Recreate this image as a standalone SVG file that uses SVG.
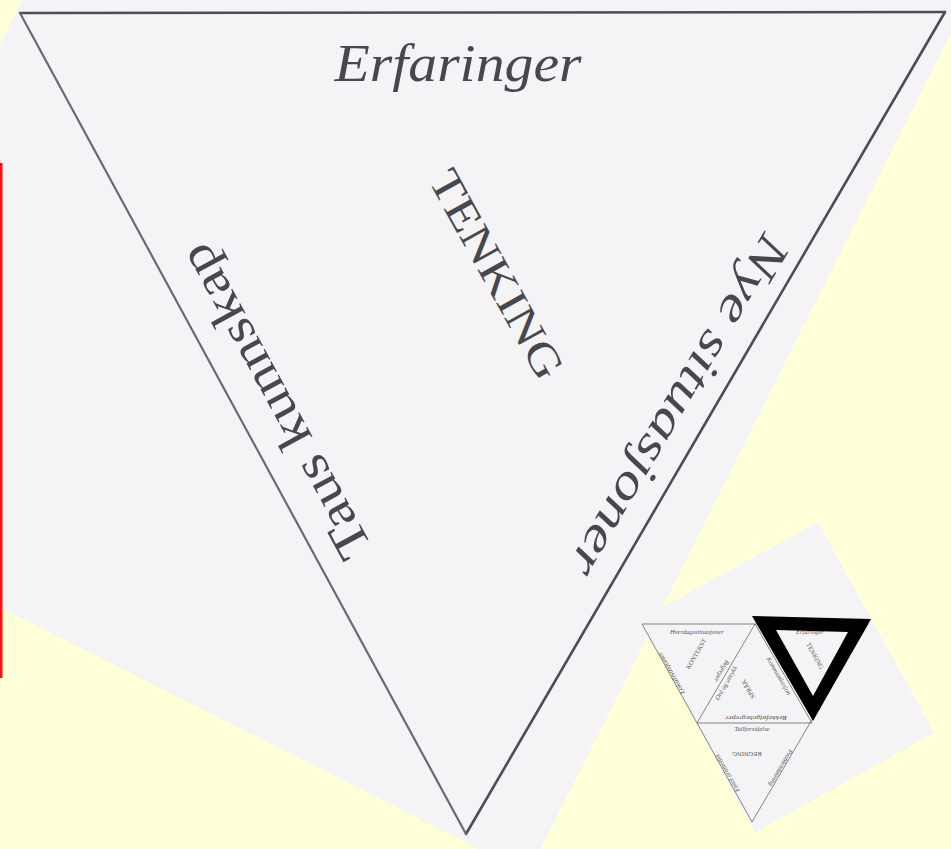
<svg xmlns="http://www.w3.org/2000/svg" width="951" height="849" viewBox="0 0 951 849">
<style>
.paper{fill:#F4F4F6}
.edge{fill:none;stroke:#4d4d55;stroke-width:2.6;stroke-linecap:round}
.big{font-family:"Liberation Serif",serif;fill:#47474d}
.it{font-style:italic}
.thin{fill:none;stroke:#777;stroke-width:0.9}
.tiny{font-family:"Liberation Serif",serif;fill:#555;font-size:6.5px}
</style>
<rect width="951" height="849" fill="#FFFFD8"/>
<g id="paper">
<polygon class="paper" points="73,-100 1018,-100 528,874 -226,493"/>
</g>
<rect id="red-bar" x="0" y="163" width="2.5" height="515" fill="#FF1010"/>
<g id="connectors">
<line class="edge" x1="20" y1="13" x2="945" y2="12"/>
<line class="edge" x1="945" y1="12" x2="466" y2="834"/>
<line class="edge" x1="20" y1="13" x2="466" y2="834" style="stroke:#6a6a70;stroke-width:2.2"/>
</g>
<g id="erfaringer">
<text class="big it" x="458" y="81" font-size="52" text-anchor="middle" textLength="247" lengthAdjust="spacingAndGlyphs">Erfaringer</text>
</g>
<g id="tenking">
<text class="big" transform="translate(497,274) rotate(61)" x="0" y="15" font-size="44" text-anchor="middle" textLength="232" lengthAdjust="spacingAndGlyphs">TENKING</text>
</g>
<g id="taus-kunnskap">
<text class="big" transform="translate(276,401) rotate(-118.5)" x="0" y="15" font-size="50" text-anchor="middle" textLength="350" lengthAdjust="spacingAndGlyphs">Taus kunnskap</text>
</g>
<g id="nye-situasjoner">
<text class="big it" transform="translate(678,405) rotate(120.5)" x="0" y="14" font-size="48" text-anchor="middle" textLength="388" lengthAdjust="spacingAndGlyphs">Nye situasjoner</text>
</g>
<g id="inset">
<polygon class="paper" points="818,522 934,733 755,833 640,620"/>
<g id="inset-lines">
<polygon class="thin" points="642,624 868,624 752,822"/>
<polygon class="thin" points="755,624 697,723 812,723"/>
</g>
<text class="tiny it" x="697" y="634" text-anchor="middle">Hverdagssituasjoner</text>
<text class="tiny" transform="translate(698,655) rotate(-60)" text-anchor="middle" font-size="5.5">KONTEKST</text>
<text class="tiny it" transform="translate(673,672) rotate(-120)" text-anchor="middle" textLength="48" lengthAdjust="spacingAndGlyphs">Lokalisasjoner</text>
<text class="tiny it" transform="translate(720,670) rotate(120)" text-anchor="middle" font-size="6">Begreper</text>
<text class="tiny it" transform="translate(728,684) rotate(-60)" text-anchor="middle" font-size="6">Ord og uttrykk</text>
<text class="tiny" transform="translate(750,688) rotate(-120)" text-anchor="middle" font-size="5.5">SPRÅK</text>
<text class="tiny it" transform="translate(777,677) rotate(60)" text-anchor="middle">Kommunikasjon</text>
<text class="tiny it" transform="translate(756,716) rotate(180)" text-anchor="middle" textLength="62" lengthAdjust="spacingAndGlyphs">Rekkefølgebegreper</text>
<text class="tiny it" x="752" y="731" text-anchor="middle">Tallforståelse</text>
<text class="tiny" transform="translate(747,752) rotate(180)" text-anchor="middle" font-size="5.5">REGNING</text>
<text class="tiny it" transform="translate(729,772) rotate(-120)" text-anchor="middle">Enkel aritmetikk</text>
<text class="tiny it" transform="translate(779,767) rotate(120)" text-anchor="middle">Problemløsning</text>
<text class="tiny it" x="810" y="634" text-anchor="middle">Erfaringer</text>
<text class="tiny" transform="translate(813,657) rotate(61)" text-anchor="middle" font-size="5.5">TENKING</text>
<path id="highlight" d="M752,616 L871,619 L813,721 Z M776,630 L848,632 L813,696 Z" fill="#000" fill-rule="evenodd"/>
</g>
</svg>
